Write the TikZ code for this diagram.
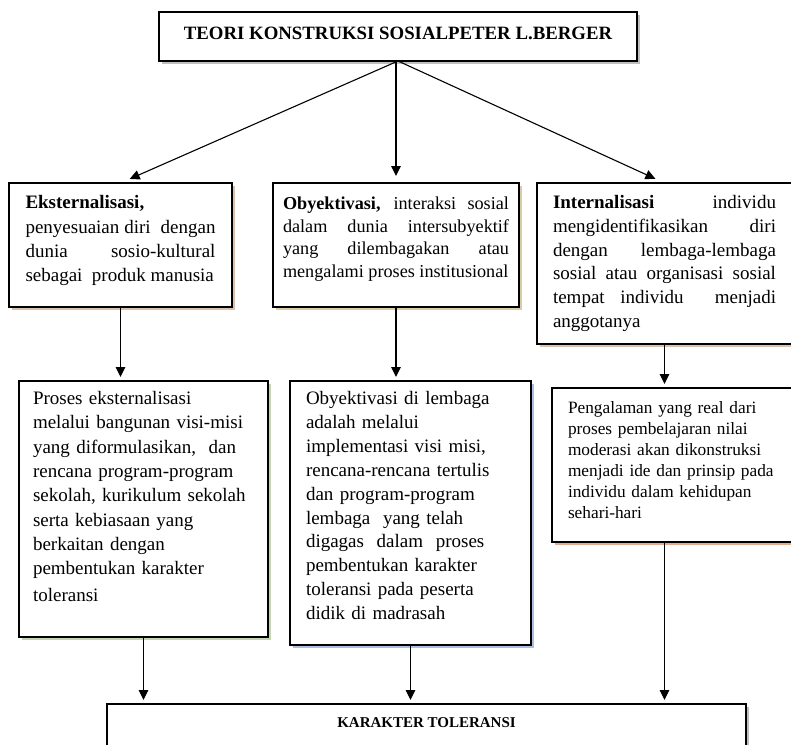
\documentclass[tikz,border=0pt]{standalone}
\usepackage{fontspec}
\setmainfont{Liberation Serif}
\usetikzlibrary{positioning, arrows.meta, shadows}
\definecolor{rimtan}{rgb}{0.86, 0.76, 0.68}
\definecolor{rimsand}{rgb}{0.85, 0.80, 0.65}
\definecolor{rimgreen}{rgb}{0.77, 0.84, 0.69}
\definecolor{rimblue}{rgb}{0.68, 0.75, 0.87}
\definecolor{rimsalmon}{rgb}{0.89, 0.68, 0.56}
\definecolor{rimgrey}{rgb}{0.75, 0.75, 0.75}

\begin{document}
\begin{tikzpicture}[x=1pt, y=-1pt,
                    every node/.style = {text=black},
                    box/.style = {draw, line width=1.5pt, fill=white, anchor=north west, outer sep=0pt,
                                  inner xsep=16pt, inner ysep=0pt, align=justify,
                                  font=\fontsize{19}{24}\selectfont},
                    rim/.style = {drop shadow={shadow xshift=2.5pt, shadow yshift=-2.5pt, fill=#1, opacity=1}},
                    every edge/.style = {draw, line width=1.1pt, -{Triangle[length=10pt, width=9.5pt]}, shorten >=4pt}]
    \useasboundingbox (0,0) rectangle (791,744);
    \clip (0,0) rectangle (791,744);
    % top
    \node (teori) [box, rim=rimgrey, align=center, minimum width=478pt, text height=27.5pt, text depth=21.5pt,
                   font=\bfseries\fontsize{18.8}{22}\selectfont] at (159,12) {TEORI KONSTRUKSI SOSIALPETER L.BERGER};
    % first row
    \node (eks) [box, rim=rimtan, inner xsep=16.5pt, text width=190pt, text height=25.5pt, text depth=98.5pt] at (9,183)
        {\textbf{Eksternalisasi,}\\[1pt]
         penyesuaian diri\ \ dengan\linebreak
         dunia sosio-kultural\linebreak
         sebagai\ \ produk manusia};
    \node (oby) [box, rim=rimsand, right=41pt of eks.north east, anchor=north west, inner xsep=10pt, text width=226pt,
                 text height=26.5pt, text depth=97.5pt, font=\fontsize{18.2}{22.5}\selectfont]
        {\textbf{Obyektivasi,} interaksi sosial\linebreak
         dalam dunia intersubyektif\linebreak
         yang dilembagakan atau\linebreak
         mengalami proses institusional};
    \node (int) [box, rim=rimtan, right=18pt of oby.north east, anchor=north west, text width=223pt,
                 text height=25.5pt, text depth=135.5pt, font=\fontsize{19}{23.8}\selectfont]
        {\textbf{Internalisasi} individu\linebreak
         mengidentifikasikan diri\linebreak
         dengan lembaga-lembaga\linebreak
         sosial atau organisasi sosial\linebreak
         tempat individu\ \ menjadi\linebreak
         anggotanya};
    % second row
    \node (pros) [box, rim=rimgreen, below right=74pt and 10pt of eks.south west, anchor=north west, align=left,
                  inner xsep=14pt, text width=221pt, text height=23.5pt, text depth=232.5pt,
                  font=\fontsize{19}{24.3}\selectfont]
        {Proses eksternalisasi\\ melalui bangunan visi-misi\\ yang diformulasikan,\ \ dan\\
         rencana program-program\\ sekolah, kurikulum sekolah\\ serta kebiasaan yang\\
         berkaitan dengan\\ pembentukan karakter\\[3pt] toleransi};
    \node (lemb) [box, rim=rimblue, right=22pt of pros.north east, anchor=north west, align=left,
                  text width=209pt, text height=23.5pt, text depth=240.5pt,
                  font=\fontsize{19}{23.9}\selectfont]
        {Obyektivasi di lembaga\\ adalah melalui\\ implementasi visi misi,\\ rencana-rencana tertulis\\
         dan program-program\\ lembaga\ \ yang telah\\ digagas\ \ dalam\ \ proses\\
         pembentukan karakter\\ toleransi pada peserta\\ didik di madrasah};
    \node (peng) [box, rim=rimsalmon, below right=7pt and 21pt of lemb.north east, anchor=north west, align=left,
                  text width=225pt, text height=25pt, text depth=129pt,
                  font=\fontsize{17.3}{21}\selectfont]
        {Pengalaman yang real dari\\ proses pembelajaran nilai\\ moderasi akan dikonstruksi\\
         menjadi ide dan prinsip pada\\ individu dalam kehidupan\\ sehari-hari};
    % bottom
    \node (kar) [box, rim=rimgrey, below right=67pt and 88pt of pros.south west, anchor=north west, align=center,
                 minimum width=639pt, text height=23pt, text depth=40pt,
                 font=\bfseries\fontsize{15}{18}\selectfont] {KARAKTER TOLERANSI};
    % arrows
    \draw (teori.south) edge[shorten >=10pt] (eks.north);
    \draw (oby.north |- teori.south) edge[shorten >=7pt] (oby.north);
    \draw (teori.south) edge[shorten >=10pt] (int.north);
    \draw (eks.south) edge (eks.south |- pros.north);
    \draw (oby.south) edge (oby.south |- lemb.north);
    \draw (int.south) edge (int.south |- peng.north);
    \draw (pros.south) edge (pros.south |- kar.north);
    \draw (lemb.south) edge (lemb.south |- kar.north);
    \draw (int.south |- peng.south) edge (int.south |- kar.north);
\end{tikzpicture}
\end{document}
